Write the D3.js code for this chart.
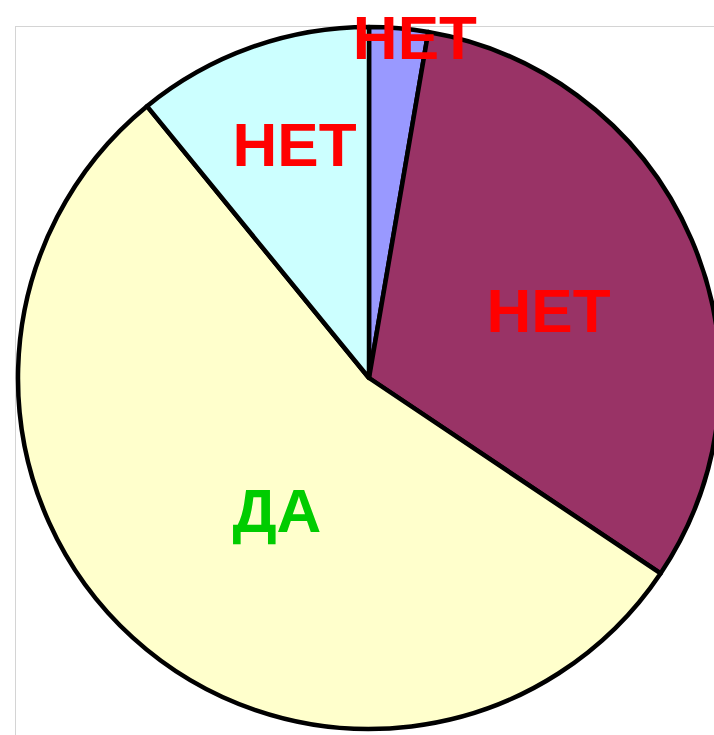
<!DOCTYPE html>
<html>
<head>
<meta charset="utf-8">
<script src="https://cdn.jsdelivr.net/npm/d3@7"></script>
<style>
  body { margin: 0; background: #fff; }
  svg { display: block; }
  text { font-family: "Liberation Sans", Arial, sans-serif; font-weight: bold; }
</style>
</head>
<body>
<svg id="chart" width="714" height="735"></svg>
<script>
// slices, clockwise from 12 o'clock
const categories = ["blue", "purple", "yellow", "cyan"];
const values = [2.7, 31.7, 54.7, 10.9];
const labels = ["НЕТ", "НЕТ", "ДА", "НЕТ"];
const sliceColors = ["#9999ff", "#993366", "#ffffcc", "#ccffff"];
const labelColors = ["#ff0000", "#ff0000", "#00cc00", "#ff0000"];

// label placement: distance from centre and angle shift (degrees) from slice middle
const labelRadius = [344, 192, 161, 246];
const labelShift = [2.8, 2.5, -7.4, 2.0];

const svg = d3.select("#chart");
const cx = 369, cy = 378, radius = 351;

// plot area frame
svg.append("rect")
  .attr("x", 15.5)
  .attr("y", 26.5)
  .attr("width", 760)
  .attr("height", 760)
  .attr("fill", "none")
  .attr("stroke", "#d4d4d4")
  .attr("stroke-width", 1);

const pie = d3.pie().sort(null).value(d => d);
const arcs = pie(values);
const arc = d3.arc().innerRadius(0).outerRadius(radius);

const g = svg.append("g").attr("transform", `translate(${cx},${cy})`);

g.selectAll("path.slice").data(arcs)
  .join("path")
  .attr("class", "slice")
  .attr("d", arc)
  .attr("fill", (d, i) => sliceColors[i])
  .attr("stroke", "#000")
  .attr("stroke-width", 4.5)
  .attr("stroke-linejoin", "round");

function labelAngle(d, i) {
  return (d.startAngle + d.endAngle) / 2 + labelShift[i] * Math.PI / 180;
}

g.selectAll("text.label").data(arcs)
  .join("text")
  .attr("class", "label")
  .attr("x", (d, i) => labelRadius[i] * Math.sin(labelAngle(d, i)))
  .attr("y", (d, i) => -labelRadius[i] * Math.cos(labelAngle(d, i)))
  .attr("dy", "0.36em")
  .attr("text-anchor", "middle")
  .attr("font-size", 62)
  .attr("fill", (d, i) => labelColors[i])
  .text((d, i) => labels[i]);
</script>
</body>
</html>
